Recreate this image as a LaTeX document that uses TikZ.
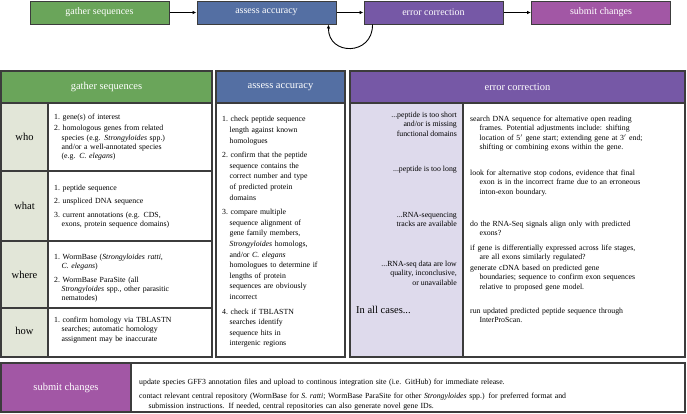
\documentclass[tikz,border=0pt]{standalone}
\usepackage{fontspec}
\setmainfont{Liberation Serif}
\usetikzlibrary{arrows.meta}
\definecolor{cgreen}{HTML}{6AA55A}
\definecolor{cblue}{HTML}{546FA3}
\definecolor{cpurple}{HTML}{7658A6}
\definecolor{cmag}{HTML}{A257A5}
\definecolor{clgreen}{HTML}{E2E6D8}
\definecolor{clav}{HTML}{DEDAEC}
\definecolor{cborder}{HTML}{3C3C3C}
\newcommand{\itm}[2]{\par\hangindent=0.95em\hangafter=1\noindent#1\ #2\par}
\newcommand{\hpar}[1]{\par\hangindent=1.2em\hangafter=1\noindent#1\par}
\begin{document}
\begin{tikzpicture}[x=1pt,y=-1pt,
  topbox/.style={draw=cborder,line width=1pt,minimum width=139pt,minimum height=23pt,inner sep=0pt,text=white,font=\fontsize{10}{11}\selectfont},
  flow/.style={-{Latex[length=4pt,width=3.5pt]},line width=0.9pt,black},
  frame/.style={draw=cborder,line width=1.1pt},
  head/.style={text=white,font=\fontsize{10.5}{11}\selectfont,inner sep=0pt},
  rowlab/.style={font=\fontsize{10.5}{11}\selectfont,inner sep=0pt},
  cell/.style={anchor=north west,align=left,inner sep=0pt,font=\fontsize{7.8}{9.3}\selectfont},
  cellb/.style={anchor=north west,align=left,inner sep=0pt,font=\fontsize{7.8}{10.6}\selectfont},
  lcell/.style={anchor=north east,align=right,inner sep=0pt,font=\fontsize{7.8}{9.3}\selectfont}
]
\useasboundingbox (0,0) rectangle (687,413);

% top flow
\node[topbox,fill=cgreen] (t1) at (99.5,12.5) {gather sequences};
\node[topbox,fill=cblue] (t2) at (266.5,12.5) {assess accuracy};
\node[topbox,fill=cpurple] (t3) at (433.5,12.5) {error correction};
\node[topbox,fill=cmag] (t4) at (601,12.5) {submit changes};
\draw[flow] (t1) -- (t2);
\draw[flow] (t2) -- (t3);
\draw[flow] (t3) -- (t4);
\draw[flow] ([xshift=9pt]t3.south west) .. controls (373,56) and (328,56) .. ([xshift=-8pt]t2.south east);

% gather table
\fill[cgreen] (1,71) rectangle (212,103);
\fill[clgreen] (1,103) rectangle (48,357);
\draw[frame] (1,71) rectangle (212,357);
\draw[frame] (1,103) -- (212,103);
\draw[frame] (48,103) -- (48,357);
\draw[frame] (1,171) -- (212,171);
\draw[frame] (1,241) -- (212,241);
\draw[frame] (1,308) -- (212,308);
\node[head] (gh) at (106.5,87) {gather sequences};
\node[rowlab] (rwho) at (24.5,137) {who};
\node[rowlab] (rwhat) at (24.5,206) {what};
\node[rowlab] (rwhere) at (24.5,275) {where};
\node[rowlab] (rhow) at (24.5,331) {how};
\node[cell,text width=156pt] (gwho) at (54,108) {\setlength{\parskip}{2pt}%
\itm{1.}{gene(s) of interest}
\itm{2.}{homologous genes from related\newline species (e.g. \textit{Strongyloides} spp.)\newline and/or a well-annotated species\newline (e.g. \textit{C. elegans})}};
\node[cell,text width=156pt] (gwhat) at (54,177) {\setlength{\parskip}{4pt}%
\itm{1.}{peptide sequence}
\itm{2.}{unspliced DNA sequence}
\itm{3.}{current annotations (e.g. CDS,\newline exons, protein sequence domains)}};
\node[cell,text width=156pt] (gwhere) at (54,246) {\setlength{\parskip}{4pt}%
\itm{1.}{WormBase (\textit{Strongyloides ratti},\newline \textit{C. elegans})}
\itm{2.}{WormBase ParaSite (all\newline \textit{Strongyloides} spp., other parasitic\newline nematodes)}};
\node[cell,text width=156pt] (ghow) at (54,313) {%
\itm{1.}{confirm homology via TBLASTN\newline searches; automatic homology\newline assignment may be inaccurate}};

% assess table
\fill[cblue] (216,71) rectangle (345,103);
\draw[frame] (216,71) rectangle (345,357);
\draw[frame] (216,103) -- (345,103);
\node[head] (ah) at (280.5,87) {assess accuracy};
\node[cellb,text width=124pt] (acont) at (222,107) {\setlength{\parskip}{4pt}%
\itm{1.}{check peptide sequence\newline length against known\newline homologues}
\itm{2.}{confirm that the peptide\newline sequence contains the\newline correct number and type\newline of predicted protein\newline domains}
\itm{3.}{compare multiple\newline sequence alignment of\newline gene family members,\newline \textit{Strongyloides} homologs,\newline and/or \textit{C. elegans}\newline homologues to determine if\newline lengths of protein\newline sequences are obviously\newline incorrect}
\itm{4.}{check if TBLASTN\newline searches identify\newline sequence hits in\newline intergenic regions}};

% error correction table
\fill[cpurple] (350,71) rectangle (685,103);
\fill[clav] (350,103) rectangle (463,357);
\draw[frame] (350,71) rectangle (685,357);
\draw[frame] (350,103) -- (685,103);
\draw[frame] (463,103) -- (463,357);
\node[head] (eh) at (517.5,87) {error correction};
\node[lcell] (l1) at (457,112) {...peptide is too short\\and/or is missing\\functional domains};
\node[lcell] (l2) at (457,166) {...peptide is too long};
\node[lcell] (l3) at (457,212) {...RNA-sequencing\\tracks are available};
\node[lcell] (l4) at (457,261) {...RNA-seq data are low\\quality, inconclusive,\\or unavailable};
\node[rowlab,anchor=west] (l5) at (356,310) {In all cases...};
\node[cell,text width=212pt] (r1) at (470,112) {%
\hpar{search DNA sequence for alternative open reading\newline frames. Potential adjustments include: shifting\newline location of 5$'$ gene start; extending gene at 3$'$ end;\newline shifting or combining exons within the gene.}};
\node[cell,text width=212pt] (r2) at (470,166) {%
\hpar{look for alternative stop codons, evidence that final\newline exon is in the incorrect frame due to an erroneous\newline inton-exon boundary.}};
\node[cell,text width=212pt] (r3) at (470,212) {\setlength{\parskip}{5pt}%
\hpar{do the RNA-Seq signals align only with predicted\newline exons?}
\hpar{if gene is differentially expressed across life stages,\newline are all exons similarly regulated?}};
\node[cell,text width=212pt] (r4) at (470,261) {%
\hpar{generate cDNA based on predicted gene\newline boundaries; sequence to confirm exon sequences\newline relative to proposed gene model.}};
\node[cell,text width=212pt] (r5) at (470,304) {%
\hpar{run updated predicted peptide sequence through\newline InterProScan.}};

% submit band
\fill[cmag] (1,363) rectangle (131,412);
\draw[frame] (1,363) rectangle (685,412);
\draw[frame] (131,363) -- (131,412);
\node[head] (sh) at (66,387.5) {submit changes};
\node[cell,text width=540pt] (s1) at (139,370) {\setlength{\parskip}{5pt}%
\hpar{update species GFF3 annotation files and upload to continous integration site (i.e. GitHub) for immediate release.}
\hpar{contact relevant central repository (WormBase for \textit{S. ratti}; WormBase ParaSite for other \textit{Strongyloides} spp.) for preferred format and\newline submission instructions. If needed, central repositories can also generate novel gene IDs.}};
\end{tikzpicture}
\end{document}
